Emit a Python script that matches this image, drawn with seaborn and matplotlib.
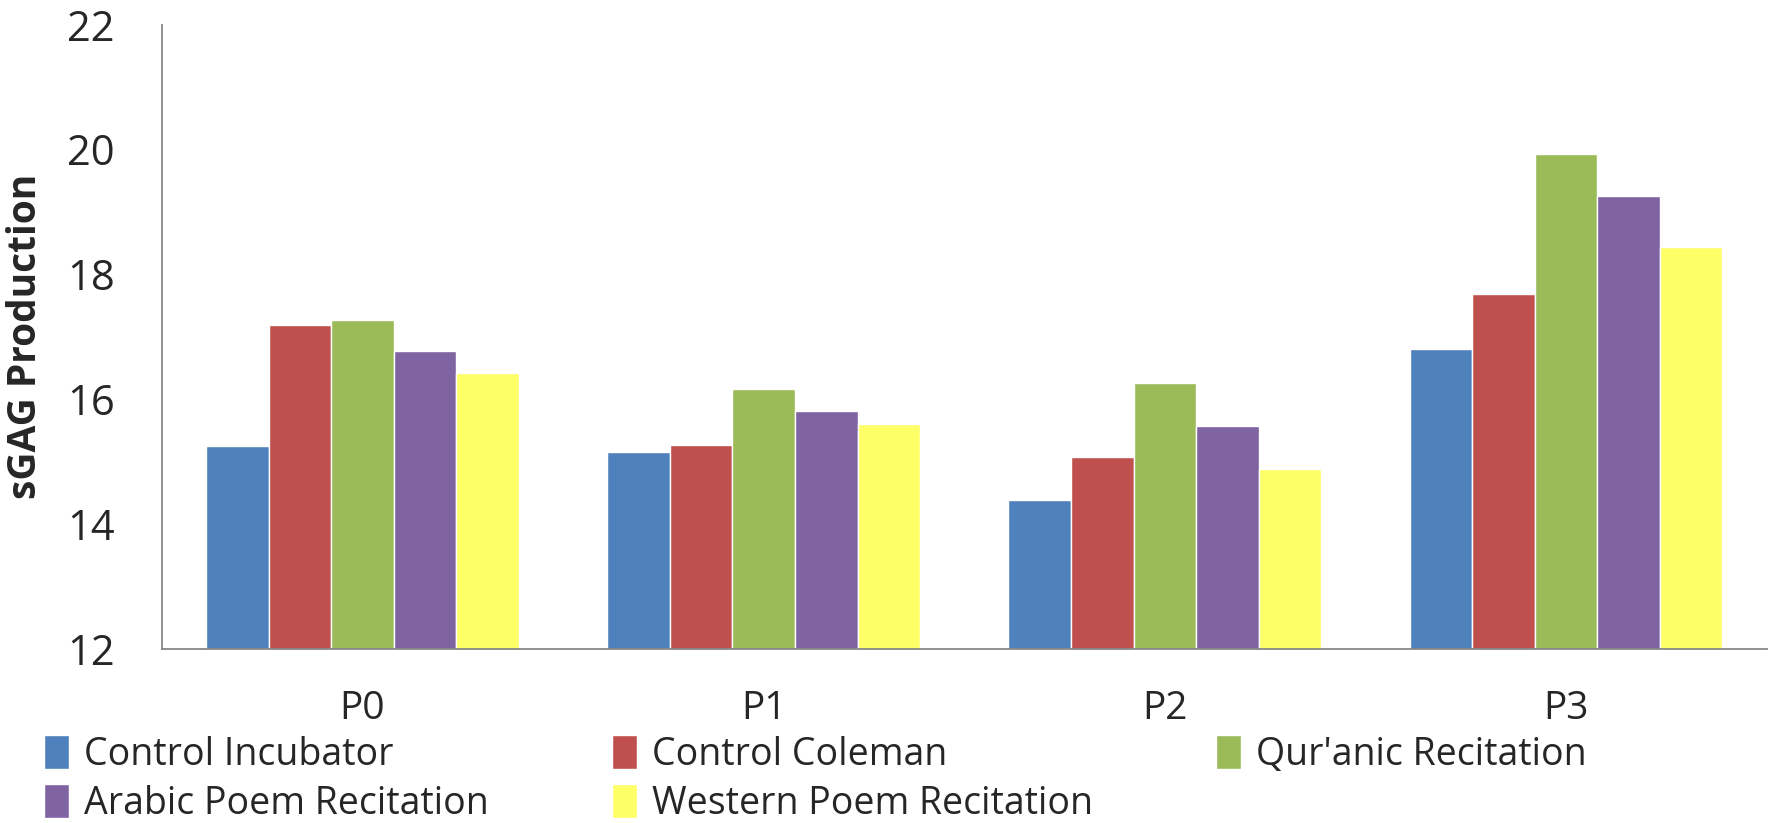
import pandas as pd
import numpy as np
import matplotlib.pyplot as plt
import seaborn as sns
from matplotlib.patches import Patch

# data
passages = ['P0', 'P1', 'P2', 'P3']
groups = ['Control Incubator', 'Control Coleman', "Qur'anic Recitation",
          'Arabic Poem Recitation', 'Western Poem Recitation']
control_incubator = [15.25, 15.15, 14.38, 16.80]
control_coleman = [17.18, 15.27, 15.07, 17.69]
quranic = [17.26, 16.16, 16.25, 19.93]
arabic_poem = [16.77, 15.80, 15.57, 19.25]
western_poem = [16.42, 15.60, 14.87, 18.44]
colors = ['#4F81BD', '#C0504D', '#9BBB59', '#8064A2', '#FFFF66']

df = pd.DataFrame({
    'Passage': passages * 5,
    'Group': np.repeat(groups, 4),
    'sGAG': control_incubator + control_coleman + quranic + arabic_poem + western_poem,
})

sns.set_style("white")
plt.rcParams['font.family'] = ['Open Sans', 'DejaVu Sans']

fig = plt.figure(figsize=(17.79, 8.23), dpi=100)
ax = fig.add_axes([0.091, 0.212, 0.902, 0.758])
sns.barplot(data=df, x='Passage', y='sGAG', hue='Group', palette=colors,
            width=0.78, gap=0, saturation=1, ax=ax, legend=False)

ax.set_ylim(12, 22)
ax.set_yticks([12, 14, 16, 18, 20, 22])
ax.set_xlim(-0.5, 3.5)
ax.set_xticks([0, 1, 2, 3])
ax.set_xticks([-0.5, 0.5, 1.5, 2.5, 3.5], minor=True)
ax.tick_params(axis='x', which='major', length=0, labelsize=28, pad=30)
ax.tick_params(axis='x', which='minor', length=14, color='#888888', width=1.3, direction='out')
ax.tick_params(axis='y', length=11, color='#888888', width=1.3, direction='out', labelsize=30, pad=23)
for s in ['top', 'right']:
    ax.spines[s].set_visible(False)
for s in ['left', 'bottom']:
    ax.spines[s].set_color('#888888')
    ax.spines[s].set_linewidth(1.3)
ax.set_xlabel('')
ax.set_ylabel('sGAG Production', fontsize=28, fontweight='bold', labelpad=16)

# legend filled row by row: reorder for matplotlib's column-wise fill
order = [0, 3, 1, 4, 2]
handles = [Patch(facecolor=colors[i], label=groups[i]) for i in order]
fig.legend(handles=handles, ncol=3, loc='lower left', bbox_to_anchor=(0.025, 0.0),
           borderaxespad=0, borderpad=0,
           frameon=False, fontsize=27, handlelength=0.65, handleheight=1.0,
           handletextpad=0.4, columnspacing=3.3, labelspacing=0.28)

fig.savefig('out.png', dpi=100)
